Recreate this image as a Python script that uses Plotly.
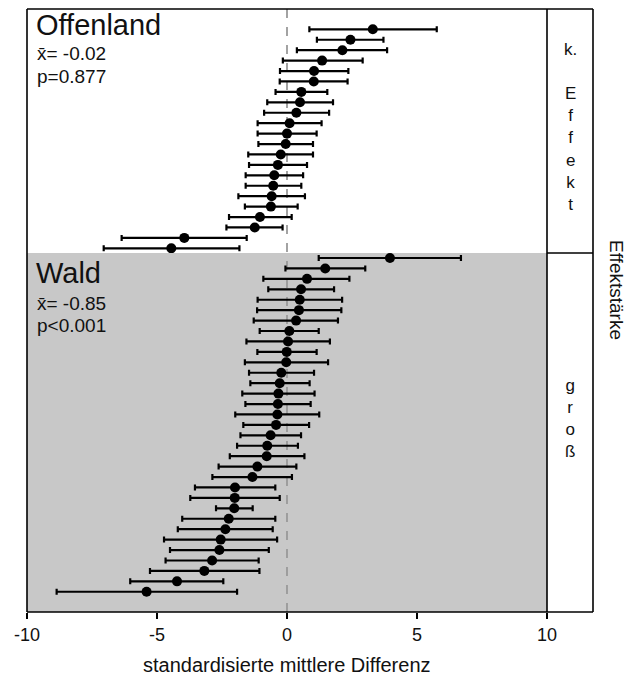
import plotly.graph_objects as go

# ---- data ----
top_est = [3.30, 2.44, 2.13, 1.35, 1.04, 1.03, 0.55, 0.50, 0.36, 0.10, 0.00, -0.05,
           -0.24, -0.35, -0.49, -0.53, -0.59, -0.62, -1.04, -1.24, -3.95, -4.45]
top_lo = [0.86, 1.15, 0.38, -0.16, -0.27, -0.28, -0.44, -0.76, -0.88, -1.13, -1.13, -1.10,
          -1.49, -1.46, -1.59, -1.59, -1.87, -1.62, -2.23, -2.33, -6.36, -7.05]
top_hi = [5.76, 3.71, 3.85, 2.91, 2.36, 2.33, 1.55, 1.77, 1.62, 1.33, 1.14, 1.00,
          1.00, 0.77, 0.62, 0.55, 0.69, 0.41, 0.18, -0.17, -1.55, -1.83]

bot_est = [3.96, 1.47, 0.77, 0.54, 0.49, 0.46, 0.35, 0.09, 0.04, -0.01, -0.03, -0.22,
           -0.28, -0.33, -0.35, -0.37, -0.42, -0.63, -0.76, -0.78, -1.14, -1.33, -2.00,
           -2.01, -2.03, -2.24, -2.37, -2.55, -2.60, -2.88, -3.18, -4.23, -5.40]
bot_lo = [1.22, -0.06, -0.91, -0.72, -1.13, -1.15, -1.28, -1.05, -1.56, -1.14, -1.62, -1.46,
          -1.41, -1.72, -1.60, -1.99, -1.68, -1.79, -1.92, -2.20, -2.63, -2.87, -3.54,
          -3.72, -2.73, -4.03, -4.20, -4.73, -4.50, -4.67, -5.27, -6.03, -8.86]
bot_hi = [6.69, 3.01, 2.40, 1.81, 2.12, 2.09, 1.96, 1.22, 1.65, 1.14, 1.58, 1.04,
          0.87, 1.06, 0.91, 1.24, 0.85, 0.54, 0.42, 0.67, 0.36, 0.19, -0.45,
          -0.28, -1.32, -0.45, -0.55, -0.38, -0.70, -1.09, -1.06, -2.45, -1.92]

panel_names = ["Offenland", "Wald"]
panel_mean = ["x\u0304= -0.02", "x\u0304= -0.85"]
panel_p = ["p=0.877", "p<0.001"]
strip_labels = ["k.<br><br>E<br>f<br>f<br>e<br>k<br>t", "g<br>r<br>o<br>\u00df"]
x_ticks = [-10, -5, 0, 5, 10]
x_title = "standardisierte mittlere Differenz"
strip_title = "Effektst\u00e4rke"

FONT = "Liberation Sans, Arial, sans-serif"
OFF = 8                      # page body margin of the browser
W, H = 640 - OFF, 679 - OFF
ML, MR, MT, MB = 19, 47, 1, 67
PW = W - ML - MR             # 566
PH = H - MT - MB             # 603
XD = 520 / PW                # panel right edge in paper coords
YSPLIT = (612 - 253) / PH


def py(pix):                 # window pixel -> paper y
    return (H - MB - (pix - OFF)) / PH


def px(pix):                 # window pixel -> paper x
    return (pix - OFF - ML) / PW


fig = go.Figure()


def add_panel(est, lo, hi, yaxis):
    ys = list(range(1, len(est) + 1))
    fig.add_trace(go.Scatter(
        x=est, y=ys, xaxis="x", yaxis=yaxis, mode="markers",
        marker=dict(color="black", size=10),
        error_x=dict(type="data", symmetric=False,
                     array=[h - e for h, e in zip(hi, est)],
                     arrayminus=[e - l for e, l in zip(est, lo)],
                     color="black", thickness=2.2, width=3),
        showlegend=False, hoverinfo="x"))


add_panel(top_est, top_lo, top_hi, "y")
add_panel(bot_est, bot_lo, bot_hi, "y2")

line_k = dict(color="black", width=1.6)
shapes = [
    dict(type="rect", xref="paper", yref="paper", x0=0, x1=XD, y0=0, y1=YSPLIT,
         fillcolor="#c8c8c8", line=dict(width=0), layer="below"),
    dict(type="line", xref="x", yref="paper", x0=0, x1=0, y0=0, y1=1,
         line=dict(color="#999999", width=1.8, dash="dash"), layer="below"),
    dict(type="line", xref="paper", yref="paper", x0=0, x1=0, y0=0, y1=1, line=line_k),
    dict(type="line", xref="paper", yref="paper", x0=0, x1=1, y0=1, y1=1, line=line_k),
    dict(type="line", xref="paper", yref="paper", x0=0, x1=1, y0=0, y1=0, line=line_k),
    dict(type="line", xref="paper", yref="paper", x0=XD, x1=XD, y0=0, y1=1, line=line_k),
    dict(type="line", xref="paper", yref="paper", x0=1, x1=1, y0=0, y1=1, line=line_k),
    dict(type="line", xref="paper", yref="paper", x0=XD, x1=1, y0=YSPLIT, y1=YSPLIT, line=line_k),
]

annotations = []
txt = "#111111"
for i, (nm, mn, pv) in enumerate(zip(panel_names, panel_mean, panel_p)):
    base = [(25, 54, 76), (272.5, 303, 325)][i]
    annotations.append(dict(text=nm, xref="paper", yref="paper", x=px(34), y=py(base[0]),
                            xanchor="left", yanchor="middle", showarrow=False,
                            font=dict(family=FONT, size=29, color=txt)))
    annotations.append(dict(text=mn, xref="paper", yref="paper", x=px(35), y=py(base[1]),
                            xanchor="left", yanchor="middle", showarrow=False,
                            font=dict(family=FONT, size=19, color=txt)))
    annotations.append(dict(text=pv, xref="paper", yref="paper", x=px(35), y=py(base[2]),
                            xanchor="left", yanchor="middle", showarrow=False,
                            font=dict(family=FONT, size=19, color=txt)))

for lab, yc in zip(strip_labels, [127, 418]):
    annotations.append(dict(text=lab, xref="paper", yref="paper", x=px(570), y=py(yc),
                            xanchor="center", yanchor="middle", showarrow=False,
                            font=dict(family=FONT, size=17, color=txt)))

annotations.append(dict(text=strip_title, xref="paper", yref="paper", x=px(617), y=py(290),
                        xanchor="center", yanchor="middle", showarrow=False, textangle=90,
                        font=dict(family=FONT, size=19, color=txt)))
annotations.append(dict(text=x_title, xref="paper", yref="paper", x=px(287), y=py(665),
                        xanchor="center", yanchor="middle", showarrow=False,
                        font=dict(family=FONT, size=20, color=txt)))

fig.update_layout(
    width=W, height=H, margin=dict(l=ML, r=MR, t=MT, b=MB),
    paper_bgcolor="white", plot_bgcolor="white",
    xaxis=dict(domain=[0, XD], range=[-10, 10], anchor="y2",
               tickvals=x_ticks, ticktext=[str(t) for t in x_ticks],
               ticks="outside", ticklen=6, tickwidth=1.6, tickcolor="black",
               showgrid=False, zeroline=False, showline=False,
               tickfont=dict(family=FONT, size=18, color=txt)),
    yaxis=dict(domain=[YSPLIT, 1], range=[22.45, -0.95], anchor="x",
               visible=False, showgrid=False, zeroline=False),
    yaxis2=dict(domain=[0, YSPLIT], range=[34.94, 0.52], anchor="x",
                visible=False, showgrid=False, zeroline=False),
    shapes=shapes, annotations=annotations,
)

fig.write_html("out.html")
